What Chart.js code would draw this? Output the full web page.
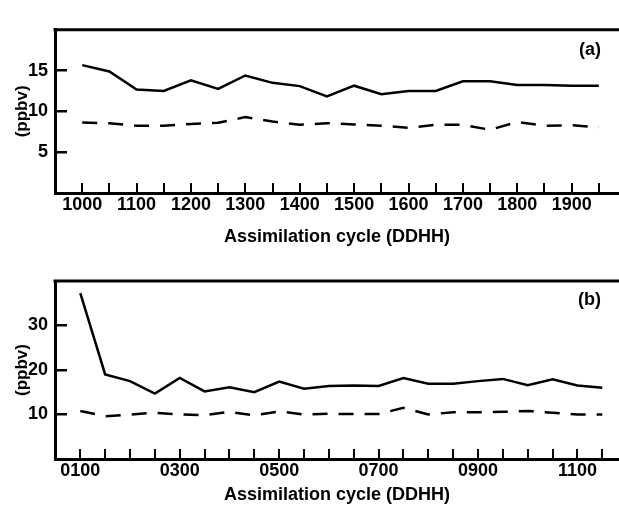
<!DOCTYPE html>
<html>
<head>
<meta charset="utf-8">
<script src="https://cdn.jsdelivr.net/npm/chart.js@4.4.1/dist/chart.umd.min.js"></script>
<style>
    html, body { margin: 0; padding: 0; background: #fff; }
    #wrap { position: relative; width: 619px; height: 512px; }
    canvas { position: absolute; left: 0; }
    #chartA { top: 0; }
    #chartB { top: 250px; }
</style>
</head>
<body>
<div id="wrap">
    <canvas id="chartA" width="619" height="250"></canvas>
    <canvas id="chartB" width="619" height="262"></canvas>
</div>
<script>
// panel (a)
var cyclesA = ['1000', '1012', '1100', '1112', '1200', '1212', '1300', '1312', '1400', '1412',
               '1500', '1512', '1600', '1612', '1700', '1712', '1800', '1812', '1900', '1912'];
var tickLabelsA = ['1000', '1100', '1200', '1300', '1400', '1500', '1600', '1700', '1800', '1900'];
var solidA = [15.67, 14.9, 12.67, 12.5, 13.8, 12.75, 14.4, 13.5, 13.1, 11.85,
              13.15, 12.1, 12.5, 12.5, 13.7, 13.7, 13.25, 13.25, 13.15, 13.15];
var dashedA = [8.63, 8.55, 8.25, 8.25, 8.45, 8.6, 9.3, 8.75, 8.35, 8.55,
               8.4, 8.25, 8.0, 8.35, 8.35, 7.75, 8.7, 8.25, 8.3, 8.05];
var yTicksA = [5, 10, 15];

// panel (b)
var cyclesB = ['0100', '0112', '0200', '0212', '0300', '0312', '0400', '0412', '0500', '0512', '0600',
               '0612', '0700', '0712', '0800', '0812', '0900', '0912', '1000', '1012', '1100', '1112'];
var tickLabelsB = ['0100', '0300', '0500', '0700', '0900', '1100'];
var solidB = [37.3, 19.0, 17.5, 14.7, 18.2, 15.2, 16.1, 15.0, 17.4, 15.8, 16.4,
              16.5, 16.4, 18.2, 16.9, 16.9, 17.5, 18.0, 16.6, 17.9, 16.5, 16.0];
var dashedB = [10.8, 9.6, 10.0, 10.4, 10.0, 9.85, 10.6, 9.8, 10.7, 10.0, 10.15,
               10.1, 10.1, 11.5, 10.0, 10.5, 10.5, 10.6, 10.8, 10.4, 10.0, 10.0];
var yTicksB = [10, 20, 30];

var panelLabels = ['(a)', '(b)'];
var yTitle = '(ppbv)';
var xTitle = 'Assimilation cycle (DDHH)';

var FONT = '"Liberation Sans", Arial, Helvetica, sans-serif';
Chart.defaults.font.family = FONT;
Chart.defaults.font.weight = 'bold';
Chart.defaults.color = '#000';

// top frame line + panel tag
var framePlugin = {
    id: 'frame',
    afterDraw: function (chart, args, opts) {
        var a = chart.chartArea;
        var ctx = chart.ctx;
        ctx.save();
        ctx.strokeStyle = '#000';
        ctx.lineWidth = 3;
        ctx.beginPath();
        ctx.moveTo(a.left - 1.5, a.top);
        ctx.lineTo(a.right, a.top);
        ctx.stroke();
        ctx.fillStyle = '#000';
        ctx.font = 'bold 18px ' + FONT;
        ctx.textAlign = 'right';
        ctx.textBaseline = 'middle';
        ctx.fillText(opts.label, a.right - 18, a.top + opts.labelDy);
        ctx.restore();
    }
};

function toPoints(values) {
    return values.map(function (v, i) { return { x: i, y: v }; });
}

function makePanel(id, cfg) {
    var cats = cfg.cats;
    return new Chart(document.getElementById(id), {
        type: 'line',
        data: {
            datasets: [
                { data: toPoints(cfg.solid), borderColor: '#000', borderWidth: 2.5, pointRadius: 0, tension: 0 },
                { data: toPoints(cfg.dashed), borderColor: '#000', borderWidth: 2.5, borderDash: [15, 11], pointRadius: 0, tension: 0 }
            ]
        },
        options: {
            responsive: false,
            animation: false,
            layout: { padding: { top: cfg.padTop, left: 0, right: 0, bottom: 0 } },
            plugins: {
                legend: { display: false },
                tooltip: { enabled: false },
                frame: { label: cfg.label, labelDy: cfg.labelDy }
            },
            scales: {
                x: {
                    type: 'linear',
                    min: cfg.xMin,
                    max: cfg.xMax,
                    afterBuildTicks: function (scale) {
                        scale.ticks = cats.map(function (c, i) { return { value: i }; });
                    },
                    afterFit: function (scale) { scale.height = cfg.xHeight; },
                    ticks: {
                        autoSkip: false,
                        maxRotation: 0,
                        padding: 11.5,
                        font: { size: 18, weight: 'bold' },
                        callback: function (value) {
                            var c = cats[value];
                            return cfg.tickLabels.indexOf(c) >= 0 ? c : '';
                        }
                    },
                    grid: { drawOnChartArea: false, drawTicks: true, tickLength: -10, lineWidth: 2, color: '#000' },
                    border: { display: true, width: 3, color: '#000' },
                    title: { display: true, text: xTitle, font: { size: 18, weight: 'bold' }, padding: { top: 0, bottom: cfg.xTitlePad } }
                },
                y: {
                    min: 0,
                    max: cfg.yMax,
                    afterBuildTicks: function (scale) {
                        scale.ticks = cfg.yTicks.map(function (v) { return { value: v }; });
                    },
                    afterFit: function (scale) { scale.width = 55; },
                    ticks: { padding: 19, font: { size: 18, weight: 'bold' } },
                    grid: { drawOnChartArea: false, drawTicks: true, tickLength: -12, lineWidth: 2.5, color: '#000' },
                    border: { display: true, width: 3, color: '#000' },
                    title: { display: true, text: yTitle, font: { size: 17, weight: 'bold' }, padding: { top: 12, bottom: 0 } }
                }
            }
        },
        plugins: [framePlugin]
    });
}

makePanel('chartA', {
    cats: cyclesA, tickLabels: tickLabelsA, solid: solidA, dashed: dashedA,
    yTicks: yTicksA, yMax: 20, xMin: -1, xMax: 19.74,
    padTop: 13, xHeight: 57, xTitlePad: 2, label: panelLabels[0], labelDy: 20
});

makePanel('chartB', {
    cats: cyclesB, tickLabels: tickLabelsB, solid: solidB, dashed: dashedB,
    yTicks: yTicksB, yMax: 40, xMin: -1.018, xMax: 21.672,
    padTop: 31, xHeight: 53, xTitlePad: 6, label: panelLabels[1], labelDy: 19.5
});
</script>
</body>
</html>
